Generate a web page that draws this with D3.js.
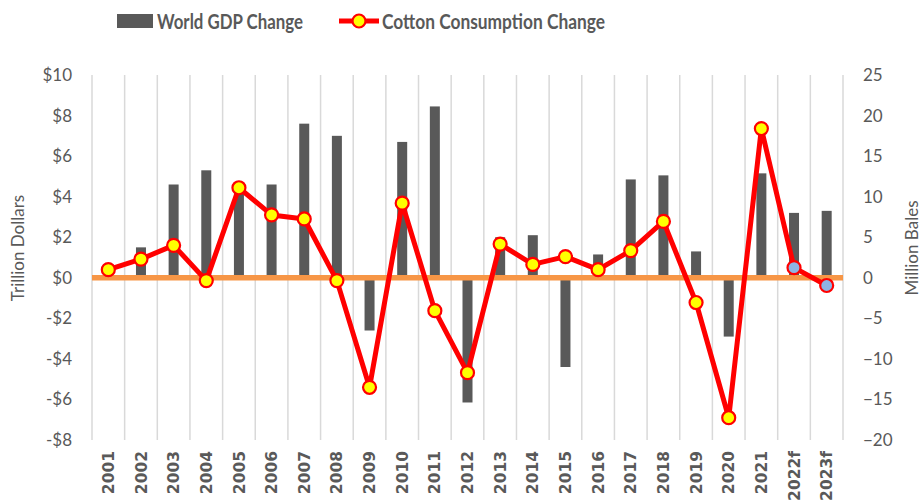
<!DOCTYPE html>
<html>
<head>
<meta charset="utf-8">
<script src="https://cdn.jsdelivr.net/npm/d3@7"></script>
<style>
  body { margin: 0; background: #fff; }
  svg text { font-family: Lato, "Open Sans", sans-serif; fill: #595959; }
</style>
</head>
<body>
<div class="canvas"></div>
<script>
// chart data
const years = ['2001','2002','2003','2004','2005','2006','2007','2008','2009','2010','2011','2012',
  '2013','2014','2015','2016','2017','2018','2019','2020','2021','2022f','2023f'];
const gdpChange = [0, 1.5, 4.6, 5.3, 4.3, 4.6, 7.6, 7.0, -2.6, 6.7, 8.45, -6.15,
  2.0, 2.1, -4.4, 1.15, 4.85, 5.05, 1.3, -2.9, 5.15, 3.2, 3.3];
const cottonChange = [1.0, 2.3, 4.0, -0.35, 11.1, 7.75, 7.25, -0.35, -13.5, 9.2, -4.05, -11.7,
  4.15, 1.65, 2.6, 1.0, 3.35, 6.95, -3.05, -17.25, 18.4, 1.25, -0.95];
const forecast = ['2022f', '2023f'];
const leftTicks = [10, 8, 6, 4, 2, 0, -2, -4, -6, -8];
const rightTicks = [25, 20, 15, 10, 5, 0, -5, -10, -15, -20];

const data = years.map((y, i) => ({year: y, gdp: gdpChange[i], cotton: cottonChange[i]}));

const svg = d3.select('.canvas')
  .append('svg')
    .attr('width', 921)
    .attr('height', 502);

const margin = {top: 75, right: 78, bottom: 62, left: 92};
const graphWidth = 921 - margin.left - margin.right;
const graphHeight = 502 - margin.top - margin.bottom;

const graph = svg.append('g')
  .attr('transform', `translate(${margin.left}, ${margin.top})`);

// scales
const x = d3.scaleBand()
  .domain(years)
  .range([0, graphWidth]);

const yLeft = d3.scaleLinear()
  .domain([-8, 10])
  .range([graphHeight, 0]);

const yRight = d3.scaleLinear()
  .domain([-20, 25])
  .range([graphHeight, 0]);

// vertical gridlines on category boundaries
const bounds = years.map(d => x(d)).concat([graphWidth]);
graph.selectAll('line.grid')
  .data(bounds)
  .enter().append('line')
    .attr('class', 'grid')
    .attr('x1', d => d).attr('x2', d => d)
    .attr('y1', 0).attr('y2', graphHeight)
    .attr('stroke', '#d9d9d9')
    .attr('stroke-width', 1.5);

// bars
const barW = 10;
graph.selectAll('rect.bar')
  .data(data)
  .enter().append('rect')
    .attr('class', 'bar')
    .attr('x', d => x(d.year) + x.bandwidth() / 2 - barW / 2)
    .attr('width', barW)
    .attr('y', d => yLeft(Math.max(0, d.gdp)))
    .attr('height', d => Math.abs(yLeft(d.gdp) - yLeft(0)))
    .attr('fill', '#595959');

// zero line
graph.append('line')
  .attr('x1', 0).attr('x2', graphWidth)
  .attr('y1', yLeft(0)).attr('y2', yLeft(0))
  .attr('stroke', '#f79646')
  .attr('stroke-width', 5.5);

// cotton line
const line = d3.line()
  .x(d => x(d.year) + x.bandwidth() / 2)
  .y(d => yRight(d.cotton));

graph.append('path')
  .datum(data)
  .attr('d', line)
  .attr('fill', 'none')
  .attr('stroke', '#ff0000')
  .attr('stroke-width', 5)
  .attr('stroke-linejoin', 'round');

graph.selectAll('circle.pt')
  .data(data)
  .enter().append('circle')
    .attr('class', 'pt')
    .attr('cx', d => x(d.year) + x.bandwidth() / 2)
    .attr('cy', d => yRight(d.cotton))
    .attr('r', 6.5)
    .attr('fill', d => forecast.includes(d.year) ? '#8eb4e3' : '#ffff00')
    .attr('stroke', '#ff0000')
    .attr('stroke-width', 2.2);

// axes
const yAxisLeft = d3.axisLeft(yLeft)
  .tickValues(leftTicks)
  .tickSize(0)
  .tickPadding(20)
  .tickFormat(d => (d < 0 ? '-$' : '$') + Math.abs(d));

const yAxisRight = d3.axisRight(yRight)
  .tickValues(rightTicks)
  .tickSize(0)
  .tickPadding(20);

const xAxis = d3.axisBottom(x).tickSize(0).tickPadding(14);

const leftG = graph.append('g').call(yAxisLeft);
const rightG = graph.append('g')
  .attr('transform', `translate(${graphWidth}, 0)`)
  .call(yAxisRight);
const xG = graph.append('g')
  .attr('transform', `translate(0, ${graphHeight})`)
  .call(xAxis);

[leftG, rightG, xG].forEach(g => g.select('.domain').remove());

leftG.selectAll('text').style('font-size', '17px').attr('fill', '#595959');
rightG.selectAll('text').style('font-size', '17px').attr('fill', '#595959');

// rotated year labels, kept inside the bottom edge
xG.selectAll('text')
  .attr('transform', 'rotate(-90)')
  .attr('text-anchor', 'end')
  .attr('dy', '0.36em')
  .attr('x', -11)
  .attr('y', 0)
  .style('font-family', '"DejaVu Sans", sans-serif')
  .style('font-weight', 'bold')
  .style('font-size', '15.5px')
  .attr('fill', '#595959');

// axis titles
svg.append('text')
  .attr('transform', `translate(24, 248) rotate(-90)`)
  .attr('text-anchor', 'middle')
  .style('font-size', '17px')
  .text('Trillion Dollars');

svg.append('text')
  .attr('transform', `translate(918, 248) rotate(-90)`)
  .attr('text-anchor', 'middle')
  .style('font-size', '17px')
  .text('Million Bales');

// legend
const legend = svg.append('g');
legend.append('rect')
  .attr('x', 117).attr('y', 14)
  .attr('width', 36).attr('height', 14)
  .attr('fill', '#595959');
legend.append('text')
  .attr('x', 157).attr('y', 28.5)
  .style('font-size', '20.5px')
  .style('font-weight', 'bold')
  .attr('textLength', 146)
  .attr('lengthAdjust', 'spacingAndGlyphs')
  .text('World GDP Change');

legend.append('line')
  .attr('x1', 339).attr('x2', 379)
  .attr('y1', 21).attr('y2', 21)
  .attr('stroke', '#ff0000')
  .attr('stroke-width', 5);
legend.append('circle')
  .attr('cx', 359).attr('cy', 21)
  .attr('r', 6.5)
  .attr('fill', '#ffff00')
  .attr('stroke', '#ff0000')
  .attr('stroke-width', 2.2);
legend.append('text')
  .attr('x', 382).attr('y', 28.5)
  .style('font-size', '20.5px')
  .style('font-weight', 'bold')
  .attr('textLength', 223)
  .attr('lengthAdjust', 'spacingAndGlyphs')
  .text('Cotton Consumption Change');
</script>
</body>
</html>
